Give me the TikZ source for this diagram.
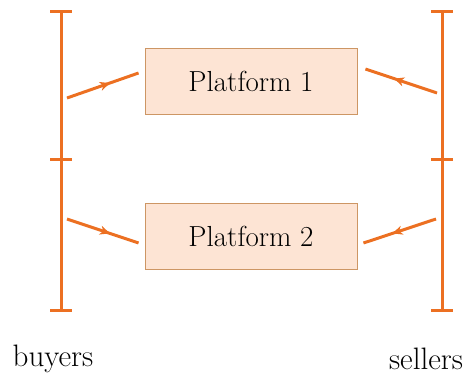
\documentclass[tikz,border=0pt]{standalone}
\usetikzlibrary{arrows.meta,decorations.markings}
\definecolor{barorange}{RGB}{236,112,34}
\definecolor{boxfill}{RGB}{253,228,212}
\definecolor{boxedge}{RGB}{205,150,100}
\begin{document}
\begin{tikzpicture}[x=1pt,y=-1pt,
  bar/.style={draw=barorange,line width=3pt},
  platform/.style={draw=boxedge,fill=boxfill,line width=0.9pt,minimum width=212pt,minimum height=66pt,inner sep=0pt,font=\fontsize{29}{34}\selectfont},
  flow/.style={draw=barorange,line width=3pt,postaction={decorate},
    decoration={markings,mark=at position 0.6 with {\arrow{Stealth[length=10pt,width=9pt,inset=3pt]}}}},
  side/.style={font=\fontsize{31}{36}\selectfont}]
\useasboundingbox (0,0) rectangle (466,378);
% the two sides of the market, each split in two halves
\foreach \nm/\x in {b/61,s/442}{
  \coordinate (\nm top) at (\x,11);
  \coordinate (\nm mid) at (\x,159);
  \coordinate (\nm bot) at (\x,310);
  \draw[bar] (\nm top) -- (\nm bot);
  \foreach \t in {top,mid,bot}
    \draw[bar] ([xshift=-11pt]\nm\t) -- ([xshift=11pt]\nm\t);
}
% platforms
\node[platform] (p1) at (251,81) {Platform 1};
\node[platform] (p2) at (251,236) {Platform 2};
% connections from each side to the platforms
\coordinate (b1) at (67,98);
\coordinate (b2) at (67,219);
\coordinate (s1) at (437,93);
\coordinate (s2) at (436,219);
\draw[flow] (b1) -- ([shift={(-6,-8)}]p1.west);
\draw[flow] (b2) -- ([shift={(-6,7)}]p2.west);
\draw[flow] (s1) -- ([shift={(8,-12)}]p1.east);
\draw[flow] (s2) -- ([shift={(6,7)}]p2.east);
% labels
\node[side] (buyers) at (53,359) {buyers};
\node[side] (sellers) at (426,359) {sellers};
\end{tikzpicture}
\end{document}
